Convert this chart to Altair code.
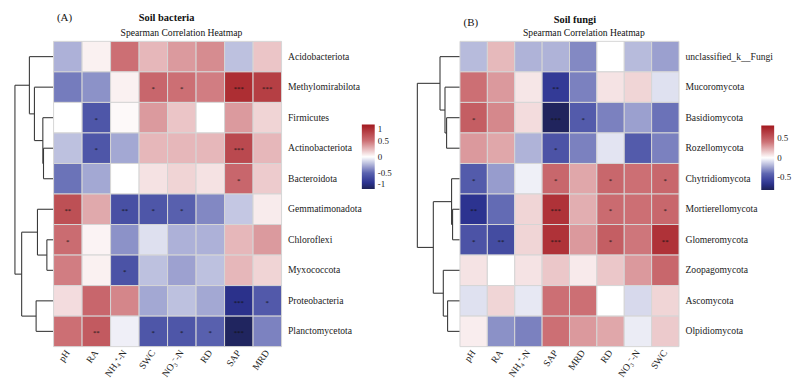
import altair as alt
import pandas as pd

FONT = "Liberation Serif"

# ---------------- data: Soil bacteria ----------------
bac_rows = ["Acidobacteriota", "Methylomirabilota", "Firmicutes", "Actinobacteriota",
            "Bacteroidota", "Gemmatimonadota", "Chloroflexi", "Myxococcota",
            "Proteobacteria", "Planctomycetota"]
bac_cols = ["pH", "RA", "NH\u2084\u207a-N", "SWC", "NO\u2083\u207b-N", "RD", "SAP", "MRD"]
bac_r = [
    [-0.25, 0.05, 0.50, 0.25, 0.35, 0.40, -0.20, 0.20],
    [-0.42, -0.35, 0.05, 0.55, 0.50, 0.45, 0.88, 0.78],
    [0.00, -0.58, 0.02, 0.35, 0.20, 0.00, 0.35, 0.15],
    [-0.20, -0.58, -0.28, 0.25, 0.25, 0.25, 0.72, 0.25],
    [-0.45, -0.28, 0.00, 0.10, 0.15, 0.10, 0.55, 0.18],
    [0.68, 0.30, -0.62, -0.58, -0.52, -0.38, -0.18, 0.07],
    [0.52, 0.04, -0.35, -0.10, -0.25, -0.25, 0.25, 0.35],
    [0.45, 0.05, -0.60, -0.20, -0.30, -0.20, 0.25, 0.15],
    [0.12, 0.55, 0.42, -0.28, -0.20, -0.28, -0.82, -0.56],
    [0.50, 0.62, -0.05, -0.58, -0.58, -0.52, -0.97, -0.40],
]
bac_sig = [
    ["", "", "", "", "", "", "", ""],
    ["", "", "", "*", "*", "", "***", "***"],
    ["", "*", "", "", "", "", "", ""],
    ["", "*", "", "", "", "", "***", ""],
    ["", "", "", "", "", "", "*", ""],
    ["**", "", "**", "*", "*", "", "", ""],
    ["*", "", "", "", "", "", "", ""],
    ["", "", "*", "", "", "", "", ""],
    ["", "", "", "", "", "", "***", "*"],
    ["", "**", "", "*", "*", "*", "***", ""],
]
# merges: (child_a, child_b, height); ints refer to earlier merges
bac_tree = [
    ("Actinobacteriota", "Bacteroidota", 30),
    ("Firmicutes", 0, 32),
    ("Methylomirabilota", 1, 57),
    ("Acidobacteriota", 2, 72),
    ("Chloroflexi", "Myxococcota", 20),
    ("Gemmatimonadota", 4, 48),
    ("Proteobacteria", "Planctomycetota", 52),
    (5, 6, 95),
    (3, 7, 115),
]

# ---------------- data: Soil fungi ----------------
fun_rows = ["unclassified_k__Fungi", "Mucoromycota", "Basidiomycota", "Rozellomycota",
            "Chytridiomycota", "Mortierellomycota", "Glomeromycota", "Zoopagomycota",
            "Ascomycota", "Olpidiomycota"]
fun_cols = ["pH", "RA", "NH\u2084\u207a-N", "SAP", "MRD", "RD", "NO\u2083\u207b-N", "SWC"]
fun_r = [
    [-0.18, 0.20, -0.20, -0.20, -0.31, 0.00, -0.18, -0.25],
    [0.41, 0.29, 0.07, -0.62, -0.33, 0.08, 0.12, -0.08],
    [0.49, 0.34, 0.10, -0.80, -0.45, -0.33, -0.25, -0.37],
    [0.29, 0.25, -0.20, -0.49, -0.33, -0.07, -0.45, -0.33],
    [-0.45, -0.26, -0.04, 0.45, 0.25, 0.45, 0.41, 0.45],
    [-0.66, -0.39, 0.12, 0.70, 0.23, 0.43, 0.41, 0.45],
    [-0.49, -0.53, 0.12, 0.70, 0.29, 0.49, 0.39, 0.70],
    [0.08, 0.00, 0.08, 0.16, 0.06, 0.16, 0.29, 0.45],
    [-0.08, 0.12, -0.06, 0.41, 0.41, 0.00, -0.10, 0.12],
    [0.05, -0.29, -0.33, 0.41, 0.29, 0.25, -0.05, 0.15],
]
fun_sig = [
    ["", "", "", "", "", "", "", ""],
    ["", "", "", "**", "", "", "", ""],
    ["*", "", "", "***", "*", "", "", ""],
    ["", "", "", "*", "", "", "", ""],
    ["*", "", "", "*", "", "*", "", "*"],
    ["**", "", "", "***", "", "*", "", "*"],
    ["*", "**", "", "***", "", "*", "", "**"],
    ["", "", "", "", "", "", "", ""],
    ["", "", "", "", "", "", "", ""],
    ["", "", "", "", "", "", "", ""],
]
fun_tree = [
    ("Basidiomycota", "Rozellomycota", 13.4),
    ("Mucoromycota", 0, 15.0),
    ("unclassified_k__Fungi", 1, 20.0),
    ("Mortierellomycota", "Glomeromycota", 7.4),
    ("Chytridiomycota", 3, 8.4),
    ("Ascomycota", "Olpidiomycota", 12.4),
    ("Zoopagomycota", 5, 16.7),
    (4, 6, 26.7),
    (2, 7, 42.7),
]

STOPS = [-1, -0.8, -0.5, 0, 0.5, 1]
COLORS = ["#1e2256", "#2c3391", "#5b63b0", "#ffffff", "#cc6f74", "#a3191f"]


def long_df(rows, cols, r, sig, field):
    recs = []
    for i, rn in enumerate(rows):
        for j, cn in enumerate(cols):
            recs.append({"row": rn, "col": cn, field: r[i][j], "sig": sig[i][j]})
    return pd.DataFrame(recs)


def dendro_df(leaves, merges):
    pos = {name: i + 0.5 for i, name in enumerate(leaves)}
    nodes = []
    segs = []

    def get(c):
        if isinstance(c, int):
            return nodes[c]
        return (pos[c], 0.0)

    for a, b, h in merges:
        ya, ha = get(a)
        yb, hb = get(b)
        segs.append({"x": h, "x2": h, "y": ya, "y2": yb})
        segs.append({"x": ha, "x2": h, "y": ya, "y2": ya})
        segs.append({"x": hb, "x2": h, "y": yb, "y2": yb})
        nodes.append(((ya + yb) / 2, h))
    return pd.DataFrame(segs)


def dendro_chart(leaves, merges, width, height):
    df = dendro_df(leaves, merges)
    maxh = max(m[2] for m in merges)
    return alt.Chart(df).mark_rule(color="#3a3a3a", strokeWidth=1.1).encode(
        x=alt.X("x:Q", scale=alt.Scale(domain=[maxh, 0], nice=False, zero=False), axis=None),
        x2="x2:Q",
        y=alt.Y("y:Q", scale=alt.Scale(domain=[0, len(leaves)], reverse=True, nice=False, zero=False), axis=None),
        y2="y2:Q",
    ).properties(width=width, height=height)


def text_chart(txt, x, y, size, weight="normal"):
    return alt.Chart(pd.DataFrame({"t": [txt]})).mark_text(
        font=FONT, fontSize=size, fontWeight=weight, color="#111", align="center", baseline="middle"
    ).encode(text="t:N", x=alt.value(x), y=alt.value(y))


def heat_chart(rows, cols, r, sig, field, dom, legend_vals, lx, ly, width, height,
               label, title, tpos):
    df = long_df(rows, cols, r, sig, field)
    scale = alt.Scale(domain=[s * dom for s in STOPS], range=COLORS, interpolate="rgb", clamp=True)
    base = alt.Chart(df).encode(
        x=alt.X("col:N", sort=cols, title=None,
                axis=alt.Axis(labelAngle=-55, ticks=False, domain=False, labelPadding=4,
                              labelFont=FONT, labelFontSize=9.7, labelColor="#222")),
        y=alt.Y("row:N", sort=rows, title=None,
                axis=alt.Axis(orient="right", ticks=False, domain=False, labelPadding=6,
                              labelFont=FONT, labelFontSize=9.7, labelColor="#222")),
    )
    rect = base.mark_rect(stroke="#d6d6d6", strokeWidth=1).encode(
        color=alt.Color(f"{field}:Q", scale=scale, title=None,
                        legend=alt.Legend(orient="none", legendX=lx, legendY=ly, direction="vertical",
                                          gradientLength=65, gradientThickness=13,
                                          gradientStrokeWidth=0, values=legend_vals,
                                          labelOverlap=False, labelExpr="'' + datum.value",
                                          labelFont=FONT, labelFontSize=9, labelColor="#222",
                                          labelOffset=3))
    )
    stars = base.mark_text(font=FONT, fontSize=7, color="#111", baseline="middle", dy=2).encode(
        text="sig:N")
    (lab_x, lab_y), (t_x, t_y), (s_x, s_y) = tpos
    t1 = text_chart(label, lab_x, lab_y, 11)
    t2 = text_chart(title, t_x, t_y, 10.5, "bold")
    t3 = text_chart("Spearman Correlation Heatmap", s_x, s_y, 9.7)
    return alt.layer(rect, stars, t1, t2, t3).properties(width=width, height=height)


H = 308
dA = dendro_chart(bac_rows, bac_tree, 39, H)
hA = heat_chart(bac_rows, bac_cols, bac_r, bac_sig, "rb", 1.0, [-1, -0.5, 0, 0.5, 1],
                350, 84, 230, H, "(A)", "Soil bacteria",
                ((11, -23.5), (114, -23.5), (129, -8.5)))
dB = dendro_chart(fun_rows, fun_tree, 43, H)
hB = heat_chart(fun_rows, fun_cols, fun_r, fun_sig, "rf", 0.82, [-0.5, 0, 0.5],
                347, 85, 221, H, "(B)", "Soil fungi",
                ((11, -18.3), (116, -21.3), (125, -8.3)))

panelA = alt.hconcat(dA, hA, spacing=0, bounds="flush")
panelB = alt.hconcat(dB, hB, spacing=0, bounds="flush")

chart = alt.hconcat(panelA, panelB, spacing=24).resolve_scale(color="independent").properties(
    padding={"left": 6, "top": 2, "right": 0, "bottom": 0},
    background="white",
).configure_view(stroke=None)

chart.save("out.html", embed_options={"renderer": "svg", "actions": False})
